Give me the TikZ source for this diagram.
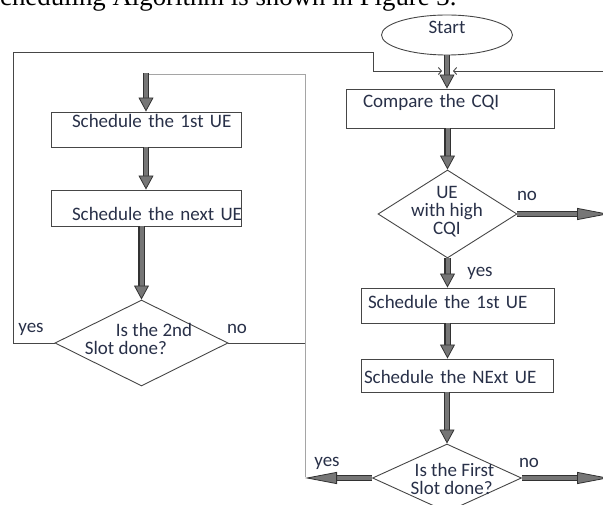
\documentclass[tikz,border=0pt]{standalone}
\usepackage{fontspec}
\setmainfont{Carlito}
\newfontfamily\captionfont{Liberation Serif}
\usepackage{tikz}
\usetikzlibrary{shapes, arrows.meta, positioning}
\definecolor{inkblue}{RGB}{40,48,72}
\definecolor{linegray}{RGB}{70,70,70}
\definecolor{loopgray}{RGB}{165,165,165}
\definecolor{arrowfill}{RGB}{118,118,118}
\definecolor{arrowedge}{RGB}{50,50,50}

\tikzset{
  box/.style={draw=linegray, line width=0.9pt, rectangle, inner sep=0pt, align=left,
    text=inkblue, font=\fontsize{19}{18}\selectfont},
  decision/.style={draw=linegray, line width=0.9pt, diamond, inner sep=0pt},
  lbl/.style={text=inkblue, font=\fontsize{19}{18}\selectfont, inner sep=0pt},
  wire/.style={draw=linegray, line width=0.9pt},
  loopline/.style={draw=loopgray, line width=1pt},
  flow/.style={draw=arrowfill, line width=4pt,
    -{Triangle[width=15pt, length=14pt, line width=0.8pt, color=arrowedge, fill=arrowfill]},
    preaction={draw=arrowedge, line width=6.5pt, -, shorten >=13pt}},
  flowlong/.style={draw=arrowfill, line width=4pt,
    -{Triangle[width=12pt, length=32pt, line width=0.8pt, color=arrowedge, fill=arrowfill]},
    preaction={draw=arrowedge, line width=6.5pt, -, shorten >=31pt}},
}

\begin{document}
\begin{tikzpicture}[x=1pt, y=-1pt]
  \useasboundingbox (0,0) rectangle (603,505);
  \clip (0,0) rectangle (603,505);

  \node[font=\captionfont\fontsize{26.8}{30}\selectfont, anchor=base west, inner sep=0pt] (caption)
    at (-14.9,5.5) {Scheduling Algorithm is shown in Figure 3.};

  \node[draw=linegray, line width=0.9pt, ellipse, minimum width=131pt, minimum height=40pt,
    text=inkblue, font=\fontsize{19}{18}\selectfont, text height=6pt, text depth=8pt] (start) at (447,35) {Start};

  \node[box, text width=208pt, text height=19pt, text depth=20pt] (cmp) at (450,108.5) {\hspace*{17pt}\mbox{Compare the CQI}};
  \node[decision, minimum width=139pt, minimum height=88pt] (d1) at (447.5,214) {};
  \node[lbl, align=center] (d1t) at (447,212) {UE\\with high\\CQI};
  \node[box, text width=193pt, text height=21pt, text depth=14pt] (s1R) at (457.5,305.5) {\hspace*{7pt}\mbox{Schedule the 1st UE}};
  \node[box, text width=192pt, text height=25pt, text depth=8pt] (s2R) at (457,375.5) {\hspace*{3pt}\mbox{Schedule the NExt UE}};
  \node[decision, minimum width=149pt, minimum height=68pt] (d3) at (447,478) {};
  \node[lbl, align=left] (d3t) at (452.5,479) {\hspace*{4pt}Is the First\\Slot done?};

  \node[box, text width=190pt, text height=16pt, text depth=19pt] (s1L) at (146,129.5) {\hspace*{21pt}\mbox{Schedule the 1st UE}};
  \node[box, text width=190pt, text height=31pt, text depth=5pt] (s2L) at (146,208) {\hspace*{21pt}\mbox{Schedule the next UE}};
  \node[decision, minimum width=173pt, minimum height=86pt] (d2) at (141.5,343) {};
  \node[lbl, align=left] (d2t) at (138.5,339) {\hspace*{31pt}Is the 2nd\\Slot done?};

  \foreach \x/\y/\t/\n in {527/196/no/noA, 480/273/yes/yesA, 31/329/yes/yesB,
                           237/329/no/noB, 327/463/yes/yesC, 529/463/no/noC}
    \node[lbl] (\n) at (\x,\y) {\t};

  \coordinate (o1) at (13,52);
  \coordinate (o2) at (373,52);
  \coordinate (o3) at (373,71);
  \coordinate (o4) at (605,71);
  \coordinate (jl) at (442,71);
  \coordinate (jr) at (453,71);
  \coordinate (g1) at (146,75);
  \coordinate (g2) at (305,75);
  \coordinate (g3) at (305,477);
  \coordinate (edge) at (609,0);

  \draw[wire, -{Straight Barb[length=3pt, width=7pt]}] (d2.west) -- (d2.west -| o1) -- (o1) -- (o2) -- (o3) -- (jl);
  \draw[wire, -{Straight Barb[length=3pt, width=7pt]}] (o4) -- (jr);
  \draw[loopline] (g1) -- (g2) -- (g3);
  \draw[wire] (d2.east) -- (d2.east -| g2);

  \draw[flow] (start.south) -- (start.south |- cmp.north);
  \draw[flow] (d1.north |- cmp.south) -- (d1.north);
  \draw[flow] (d1.south) -- (d1.south |- s1R.north);
  \draw[flow] (d1.south |- s1R.south) -- (d1.south |- s2R.north);
  \draw[flow] (d3.north |- s2R.south) -- (d3.north);
  \draw[flowlong] (d1.east) -- (d1.east -| edge);
  \draw[flowlong] (d3.east) -- (d3.east -| edge);
  \draw[flowlong] (d3.west) -- (d3.west -| g3);

  \draw[flow] ([yshift=2pt]g1) -- (s1L.north);
  \draw[flow] (s1L.south) -- (s2L.north);
  \draw[flow] (d2.north |- s2L.south) -- (d2.north);
\end{tikzpicture}
\end{document}
